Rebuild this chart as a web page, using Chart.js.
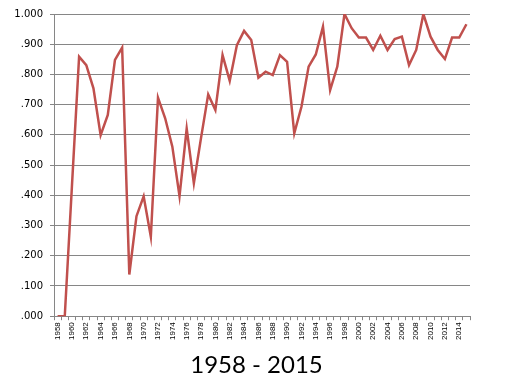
<!DOCTYPE html>
<html>
<head>
<meta charset="utf-8">
<script src="https://cdn.jsdelivr.net/npm/chart.js@4/dist/chart.umd.min.js"></script>
<style>
html,body{margin:0;padding:0;background:#fff;}
#wrap{width:513px;height:390px;position:relative;}
</style>
</head>
<body>
<div id="wrap"><canvas id="c" width="513" height="390"></canvas></div>
<script>
const years = [1958,1959,1960,1961,1962,1963,1964,1965,1966,1967,1968,1969,1970,1971,1972,1973,1974,1975,1976,1977,1978,1979,1980,1981,1982,1983,1984,1985,1986,1987,1988,1989,1990,1991,1992,1993,1994,1995,1996,1997,1998,1999,2000,2001,2002,2003,2004,2005,2006,2007,2008,2009,2010,2011,2012,2013,2014,2015];
const values = [0,0,0.43,0.859,0.831,0.754,0.599,0.666,0.848,0.889,0.138,0.331,0.397,0.263,0.723,0.655,0.561,0.397,0.621,0.44,0.59,0.734,0.682,0.864,0.779,0.897,0.944,0.914,0.789,0.809,0.798,0.864,0.842,0.605,0.693,0.826,0.866,0.958,0.748,0.826,1.000,0.953,0.922,0.922,0.881,0.928,0.881,0.917,0.925,0.831,0.881,1.000,0.925,0.881,0.851,0.922,0.922,0.966];
const titleText = '1958 - 2015';

new Chart(document.getElementById('c'), {
  type: 'line',
  data: {
    labels: years.map(String),
    datasets: [{
      data: values,
      borderColor: '#C0504D',
      borderWidth: 2.5,
      pointRadius: 0,
      tension: 0,
      fill: false
    }]
  },
  options: {
    responsive: false,
    animation: false,
    layout: { padding: { top: 14, right: 0, left: 0, bottom: 0 } },
    plugins: {
      legend: { display: false },
      tooltip: { enabled: false },
      title: {
        display: true,
        text: titleText,
        position: 'bottom',
        color: '#000',
        font: { family: 'Lato', size: 24, weight: 'normal', lineHeight: 1.2 },
        padding: { top: 6, bottom: 10 }
      }
    },
    scales: {
      x: {
        offset: true,
        afterFit: (s) => { s.height = 29; },
        grid: { drawOnChartArea: false, offset: true, tickLength: 4, color: '#868686' },
        border: { color: '#868686', width: 1 },
        ticks: {
          autoSkip: false,
          maxRotation: 90,
          minRotation: 90,
          padding: 2,
          color: '#000',
          font: { family: 'Liberation Sans', size: 8 },
          callback: function(v, i) { return i % 2 === 0 ? this.getLabelForValue(v) : ''; }
        }
      },
      y: {
        min: 0,
        max: 1,
        afterFit: (s) => { s.width = 54; },
        grid: { color: '#868686', lineWidth: 1, tickLength: 4 },
        border: { color: '#868686', width: 1 },
        ticks: {
          stepSize: 0.1,
          padding: 7,
          color: '#000',
          font: { family: 'DejaVu Sans', size: 10 },
          callback: (v) => { const s = Number(v).toFixed(3); return s.startsWith('0') ? s.slice(1) : s; }
        }
      },
      yRight: {
        position: 'right',
        min: 0,
        max: 1,
        afterFit: (s) => { s.width = 43; },
        grid: { display: false, drawOnChartArea: false, drawTicks: false },
        border: { display: false },
        ticks: { display: false }
      }
    }
  }
});
</script>
</body>
</html>
